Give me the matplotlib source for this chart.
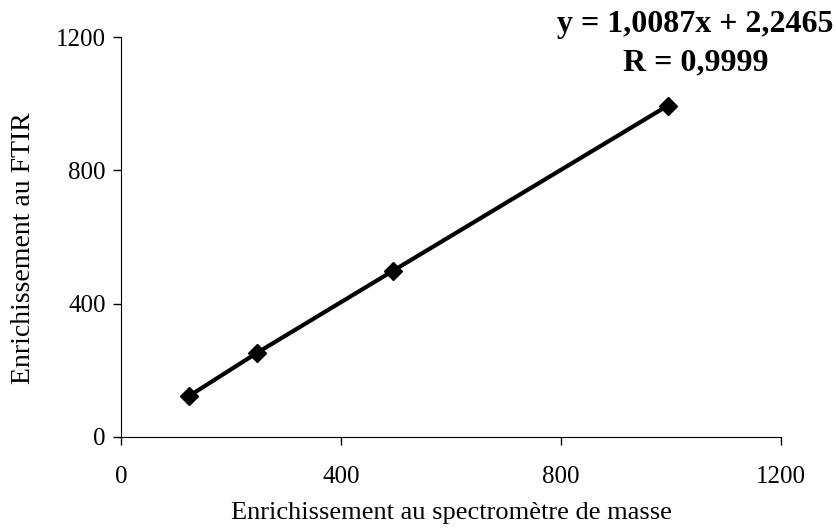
import matplotlib.pyplot as plt

# values
x_ms = [123, 247, 495, 994]
y_ftir = [122, 252, 499, 994]
x_ticks = [0, 400, 800, 1200]
y_ticks = [0, 400, 800, 1200]
equation = "y = 1,0087x + 2,2465"
r_text = "R = 0,9999"

plt.rcParams['font.family'] = ['Liberation Serif', 'DejaVu Serif']

fig = plt.figure(figsize=(8.36, 5.29), dpi=100)
ax = fig.add_axes([0.1447, 0.174, 0.7895, 0.756])

ax.plot(x_ms, y_ftir, color='black', linewidth=3, marker='D', markersize=9)

ax.set_xlim(0, 1200)
ax.set_ylim(0, 1200)
ax.set_xticks(x_ticks)
ax.set_yticks(y_ticks)
ax.tick_params(labelsize=18, direction='out', length=6, width=1)
ax.tick_params(axis='x', pad=15)
ax.tick_params(axis='y', pad=5)
ax.spines['top'].set_visible(False)
ax.spines['right'].set_visible(False)

ax.set_xlabel("Enrichissement au spectromètre de masse", fontsize=19)
ax.set_ylabel("Enrichissement au FTIR", fontsize=20)
ax.xaxis.set_label_coords(0.5, -0.162)
ax.yaxis.set_label_coords(-0.128, 0.4725)

fig.text(0.832, 0.953, equation, fontsize=23, fontweight='bold', ha='center', va='center')
fig.text(0.832, 0.881, r_text, fontsize=23, fontweight='bold', ha='center', va='center')

fig.savefig('out.png', dpi=100)
